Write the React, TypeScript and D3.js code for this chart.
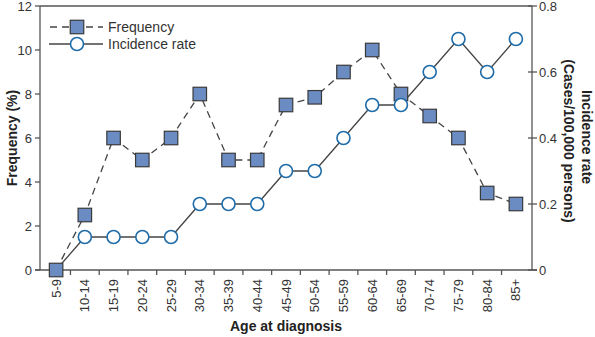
import React from "react";
import * as d3 from "d3";

const categories = ["5-9","10-14","15-19","20-24","25-29","30-34","35-39","40-44","45-49","50-54","55-59","60-64","65-69","70-74","75-79","80-84","85+"];
const frequency = [0, 2.5, 6, 5, 6, 8, 5, 5, 7.5, 7.85, 9, 10, 8, 7, 6, 3.5, 3];
const incidence = [0, 0.1, 0.1, 0.1, 0.1, 0.2, 0.2, 0.2, 0.3, 0.3, 0.4, 0.5, 0.5, 0.6, 0.7, 0.6, 0.7];
const leftTicks = [0, 2, 4, 6, 8, 10, 12];
const rightTicks = [0, 0.2, 0.4, 0.6, 0.8];

const W = 595, H = 337;
const X0 = 40, X1 = 532, Y0 = 270, Y1 = 6;
const font = "'Liberation Sans', Arial, Helvetica, sans-serif";
const axisColor = "#555";
const lineColor = "#444";
const sqFill = "#6a8cc2";
const sqStroke = "#3a3a3a";
const circStroke = "#1f6ca8";

export default function App() {
  const x = d3.scalePoint<string>().domain(categories).range([X0, X1]).padding(0.56);
  const yL = d3.scaleLinear().domain([0, 12]).range([Y0, Y1]);
  const yR = d3.scaleLinear().domain([0, 0.8]).range([Y0, Y1]);
  const lineF = d3.line<number>().x((_, i) => x(categories[i])!).y(d => yL(d));
  const lineI = d3.line<number>().x((_, i) => x(categories[i])!).y(d => yR(d));
  const sq = 13.5;
  const r = 6.5;
  const tickMids = categories.slice(1).map((c, i) => (x(categories[i])! + x(c)!) / 2);

  return (
    <svg width={W} height={H} style={{ position: "absolute", left: 0, top: 0 }} fontFamily={font}>
      {/* frame */}
      <line x1={X0} x2={X1} y1={Y1} y2={Y1} stroke={axisColor} strokeWidth={1.3} />
      <line x1={X0} x2={X0} y1={Y1} y2={Y0} stroke={axisColor} strokeWidth={1.3} />
      <line x1={X1} x2={X1} y1={Y1} y2={Y0} stroke={axisColor} strokeWidth={1.3} />
      <line x1={X0 - 5} x2={X1 + 5} y1={Y0} y2={Y0} stroke={axisColor} strokeWidth={1.3} />
      {/* left ticks */}
      {leftTicks.map(t => (
        <g key={"l" + t}>
          <line x1={X0 - 5} x2={X0} y1={yL(t)} y2={yL(t)} stroke={axisColor} strokeWidth={1.3} />
          <text x={X0 - 8} y={yL(t)} dy="0.35em" textAnchor="end" fontSize={13} fill="#333">{t}</text>
        </g>
      ))}
      {/* right ticks */}
      {rightTicks.map(t => (
        <g key={"r" + t}>
          <line x1={X1 - 4} x2={X1 + 5} y1={yR(t)} y2={yR(t)} stroke={axisColor} strokeWidth={1.3} />
          <text x={X1 + 7} y={yR(t)} dy="0.35em" textAnchor="start" fontSize={13} fill="#333">{t === 0 ? "0" : t.toFixed(1)}</text>
        </g>
      ))}
      {/* x ticks */}
      {tickMids.map((m, i) => (
        <line key={"xt" + i} x1={m} x2={m} y1={Y0} y2={Y0 + 5} stroke={axisColor} strokeWidth={1.3} />
      ))}
      {categories.map(c => (
        <text key={"xl" + c} transform={`translate(${x(c)},${Y0 + 9}) rotate(-90)`} dy="0.35em" textAnchor="end" fontSize={13} fill="#333">{c}</text>
      ))}
      {/* axis titles */}
      <text x={(X0 + X1) / 2} y={331} textAnchor="middle" fontSize={14} fontWeight="bold" fill="#222">Age at diagnosis</text>
      <text transform={`translate(12,138) rotate(-90)`} dy="0.35em" textAnchor="middle" fontSize={14} fontWeight="bold" fill="#222">Frequency (%)</text>
      <text transform={`translate(587,137) rotate(90)`} dy="0.35em" textAnchor="middle" fontSize={14} fontWeight="bold" fill="#222">Incidence rate</text>
      <text transform={`translate(569,141) rotate(90)`} dy="0.35em" textAnchor="middle" fontSize={14} fontWeight="bold" fill="#222">(Cases/100,000 persons)</text>
      {/* lines */}
      <path d={lineI(incidence)!} fill="none" stroke={lineColor} strokeWidth={1.3} />
      <path d={lineF(frequency)!} fill="none" stroke={lineColor} strokeWidth={1.3} strokeDasharray="7,5" />
      {/* squares */}
      {frequency.map((v, i) => (
        <rect key={"s" + i} x={x(categories[i])! - sq / 2} y={yL(v) - sq / 2} width={sq} height={sq} fill={sqFill} stroke={sqStroke} strokeWidth={1.2} />
      ))}
      {/* circles */}
      {incidence.map((v, i) => v > 0 ? (
        <circle key={"c" + i} cx={x(categories[i])!} cy={yR(v)} r={r} fill="#fff" stroke={circStroke} strokeWidth={1.6} />
      ) : null)}
      {/* legend */}
      <line x1={50} x2={103} y1={27} y2={27} stroke={lineColor} strokeWidth={1.3} strokeDasharray="7,5" />
      <rect x={77 - sq / 2} y={27 - sq / 2} width={sq} height={sq} fill={sqFill} stroke={sqStroke} strokeWidth={1.2} />
      <text x={108} y={27} dy="0.35em" fontSize={14} fill="#333">Frequency</text>
      <line x1={49} x2={103} y1={44} y2={44} stroke={lineColor} strokeWidth={1.3} />
      <circle cx={77} cy={44} r={r} fill="#fff" stroke={circStroke} strokeWidth={1.6} />
      <text x={108} y={44} dy="0.35em" fontSize={14} fill="#333">Incidence rate</text>
    </svg>
  );
}
